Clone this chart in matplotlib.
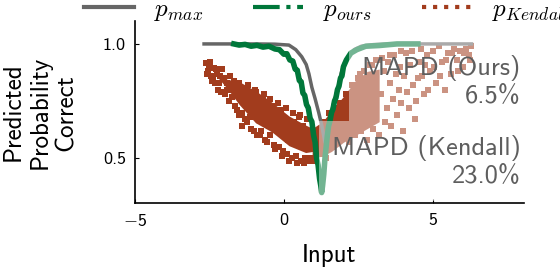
import matplotlib
matplotlib.use('Agg')
import matplotlib.pyplot as plt
from matplotlib.lines import Line2D

plt.rcParams['font.family'] = ['cmss10', 'DejaVu Sans']
plt.rcParams['mathtext.fontset'] = 'cm'

# p_max curve
max_x = [-2.68, -1.0, -0.3, 0.17, 0.4, 0.6, 0.75, 0.84, 0.94, 1.05, 1.17, 1.27, 1.38,
         1.49, 1.59, 1.71, 1.82, 1.92, 2.01, 2.16, 2.36, 2.6, 3.0, 3.5, 4.5, 6.3]
max_y = [1.0, 1.0, 0.999, 0.995, 0.975, 0.944, 0.91, 0.87, 0.81, 0.76, 0.70, 0.645, 0.57,
         0.645, 0.70, 0.76, 0.81, 0.87, 0.91, 0.944, 0.975, 0.99, 0.997, 1.0, 1.0, 1.0]

# p_ours
ours_x = [-1.68, -1.5, -1.3, -1.1, -0.9, -0.7, -0.5, -0.3, -0.15, 0.0,
          0.1, 0.2, 0.3, 0.38, 0.45, 0.52, 0.58, 0.64, 0.7, 0.76,
          0.82, 0.88, 0.94, 1.0, 1.05, 1.1, 1.15, 1.2, 1.24, 1.27,
          1.3, 1.34, 1.38, 1.42, 1.46, 1.5, 1.55, 1.6, 1.65, 1.7,
          1.75, 1.8, 1.85, 1.9, 1.95, 2.0, 2.1, 2.25, 2.45, 2.75,
          3.2, 3.8, 4.5]
ours_y = [1.0, 0.995, 0.998, 0.99, 0.994, 0.986, 0.99, 0.978, 0.975, 0.955,
          0.957, 0.93, 0.925, 0.89, 0.885, 0.84, 0.835, 0.785, 0.775, 0.735,
          0.72, 0.675, 0.66, 0.60, 0.57, 0.50, 0.47, 0.41, 0.38, 0.35,
          0.38, 0.43, 0.50, 0.55, 0.60, 0.64, 0.665, 0.70, 0.715, 0.75,
          0.765, 0.80, 0.815, 0.85, 0.86, 0.90, 0.93, 0.96, 0.975, 0.99,
          0.993, 1.0, 1.0]

# p_Kendall: dense core (lower / upper edges) + scattered samples
kc_left_x = [-2.2, -1.9, -1.5, -0.95, -0.4, 0.17, 0.73, 0.98]
kc_left_lo = [0.85, 0.805, 0.735, 0.655, 0.615, 0.555, 0.525, 0.53]
kc_left_hi = [0.86, 0.845, 0.835, 0.795, 0.745, 0.685, 0.645, 0.63]
kc_right_x = [0.95, 1.3, 1.6, 2.0, 2.4, 2.8, 3.2]
kc_right_lo = [0.50, 0.51, 0.53, 0.57, 0.60, 0.63, 0.66]
kc_right_hi = [0.63, 0.66, 0.71, 0.77, 0.84, 0.88, 0.89]

ken_x = [-2.62, -2.55, -2.5, -2.45, -2.42, -2.35, -2.3, -2.25, -2.2, -2.15,
         -2.1, -2.05, -1.98, -1.92, -1.85, -1.8, -1.72, -1.65, -1.6, -1.52,
         -1.45, -1.4, -1.33, -1.25, -1.2, -1.12, -1.05, -0.98, -0.9, -0.85,
         -0.78, -0.7, -0.62, -0.55, -0.48, -0.4, -0.33, -0.25, -0.18, -0.1,
         -0.02, 0.05, 0.12, 0.2, 0.27, 0.35, 0.42, 0.5, 0.58, 0.65,
         0.72, 0.8, 0.88, 0.95,
         -2.58, -2.48, -2.38, -2.28, -2.18, -2.08, -2.0, -1.9, -1.82, -1.75,
         -1.68, -1.58, -1.5, -1.42, -1.3, -1.22, -1.15, -1.0, -0.92, -0.8,
         -0.68, -0.58, -0.45, -0.3, -0.2, -0.05, 0.08, 0.18, 0.3, 0.45,
         0.55, 0.68, 0.78, 0.9, 0.15, -0.5, -1.1,
         1.0, 1.1, 1.2, 1.3, 1.4, 1.5, 1.6, 1.7, 1.8, 1.9,
         2.0, 2.1, 2.2, 2.3, 2.4, 2.5, 2.6, 2.7, 2.8, 2.9,
         3.0, 3.1, 3.2, 3.3, 3.4, 3.5, 3.6, 3.7, 3.8, 3.9,
         4.0, 4.1, 4.2, 4.3, 4.4, 4.5, 4.6, 4.7, 4.8, 4.9,
         5.0, 5.1, 5.2, 5.3, 5.4, 5.5, 5.6, 5.7, 5.8, 5.9,
         6.0, 6.1, 6.2, 6.3,
         1.05, 1.25, 1.45, 1.65, 1.85, 2.05, 2.25, 2.45, 2.65, 2.85,
         3.05, 3.25, 3.35, 3.45, 3.55, 3.65, 3.75, 3.85, 3.95, 4.05,
         4.15, 4.25, 4.35, 4.45, 4.55, 4.65, 4.75, 4.85, 5.05, 5.25,
         5.45, 5.65, 5.85, 6.05, 6.25, 2.55, 2.95, 3.15, 3.55, 3.95]
ken_y = [0.915, 0.88, 0.90, 0.86, 0.84, 0.895, 0.83, 0.87, 0.80, 0.86,
         0.79, 0.85, 0.78, 0.83, 0.75, 0.82, 0.80, 0.73, 0.81, 0.69,
         0.78, 0.64, 0.76, 0.66, 0.79, 0.63, 0.74, 0.80, 0.60, 0.72,
         0.62, 0.76, 0.58, 0.70, 0.60, 0.73, 0.56, 0.69, 0.55, 0.71,
         0.53, 0.67, 0.52, 0.65, 0.50, 0.66, 0.51, 0.68, 0.49, 0.64,
         0.50, 0.60, 0.49, 0.56,
         0.87, 0.92, 0.85, 0.89, 0.83, 0.89, 0.85, 0.80, 0.86, 0.77,
         0.84, 0.71, 0.83, 0.70, 0.67, 0.82, 0.68, 0.62, 0.79, 0.60,
         0.78, 0.57, 0.76, 0.54, 0.74, 0.51, 0.72, 0.49, 0.70, 0.48,
         0.69, 0.48, 0.67, 0.50, 0.58, 0.64, 0.72,
         0.49, 0.62, 0.52, 0.66, 0.50, 0.70, 0.55, 0.72, 0.58, 0.74,
         0.62, 0.78, 0.57, 0.82, 0.60, 0.85, 0.62, 0.88, 0.58, 0.91,
         0.63, 0.93, 0.60, 0.94, 0.66, 0.92, 0.64, 0.95, 0.69, 0.90,
         0.62, 0.96, 0.72, 0.97, 0.67, 0.85, 0.98, 0.78, 0.95, 0.88,
         0.97, 0.83, 0.99, 0.92, 0.80, 0.96, 0.87, 0.98, 0.93, 0.97,
         0.90, 0.98, 0.95, 0.99,
         0.55, 0.60, 0.57, 0.63, 0.67, 0.70, 0.66, 0.74, 0.79, 0.72,
         0.84, 0.78, 0.88, 0.72, 0.83, 0.76, 0.87, 0.80, 0.74, 0.86,
         0.79, 0.91, 0.82, 0.75, 0.92, 0.86, 0.91, 0.80, 0.90, 0.86,
         0.93, 0.96, 0.88, 0.96, 0.93, 0.87, 0.91, 0.93, 0.95, 0.97]

mapd_ours = 6.5
mapd_kendall = 23.0

c_gray = '#666666'
c_green = '#00773a'
c_brown = '#a23c1d'

fig = plt.figure(figsize=(5.6, 2.7), dpi=100)
ax = fig.add_axes([0.241, 0.247, 0.694, 0.675])

ax.fill_between(kc_left_x, kc_left_lo, kc_left_hi, color=c_brown, lw=0, zorder=1)
ax.fill_between(kc_right_x, kc_right_lo, kc_right_hi, color=c_brown, lw=0, zorder=1)
ax.scatter(ken_x, ken_y, s=16, marker='s', color=c_brown, lw=0, zorder=1)
ax.plot(max_x, max_y, color=c_gray, lw=2.5, zorder=2)
ax.plot(ours_x, ours_y, color=c_green, lw=4, zorder=3)

ax.set_xlim(-5, 8.05)
ax.set_ylim(0.303, 1.10)
ax.set_xticks([-5, 0, 5])
ax.set_xticklabels(['$-$5', '0', '5'])
ax.set_yticks([0.5, 1.0])
ax.set_yticklabels(['0.5', '1.0'])
ax.spines['top'].set_visible(False)
ax.spines['right'].set_visible(False)
for s in ['left', 'bottom']:
    ax.spines[s].set_linewidth(1.2)
ax.tick_params(direction='in', length=3, width=0.8, labelsize=13)
ax.tick_params(axis='x', pad=7)
ax.tick_params(axis='y', pad=6.5)
ax.set_xlabel('Input', fontsize=18, labelpad=11)
ax.set_ylabel('Predicted\nProbability\nCorrect', fontsize=18, labelpad=18)

box = dict(boxstyle='square,pad=0.5', facecolor='white', edgecolor='none', alpha=0.45)
ax.text(7.95, 0.835, 'MAPD (Ours)\n%.1f%%' % mapd_ours, ha='right', va='center',
        fontsize=19, color='#5e5e5e', bbox=box, zorder=5, multialignment='right')
ax.text(7.95, 0.485, 'MAPD (Kendall)\n%.1f%%' % mapd_kendall, ha='right', va='center',
        fontsize=19, color='#5e5e5e', bbox=box, zorder=5, multialignment='right')

# legend sits above the axes and runs off the right edge, as in the original
handles = [Line2D([], [], color=c_gray, lw=3),
           Line2D([], [], color=c_green, lw=3, ls='-.'),
           Line2D([], [], color=c_brown, lw=3, ls=':')]
fig.legend(handles, ['$p_{max}$', '$p_{ours}$', '$p_{Kendall}$'], loc='center left',
           bbox_to_anchor=(0.15, 0.962), ncol=3, frameon=False, fontsize=18,
           handlelength=2.0, handletextpad=0.8, columnspacing=2.0,
           borderpad=0, borderaxespad=0)

fig.savefig('out.png', dpi=100)
